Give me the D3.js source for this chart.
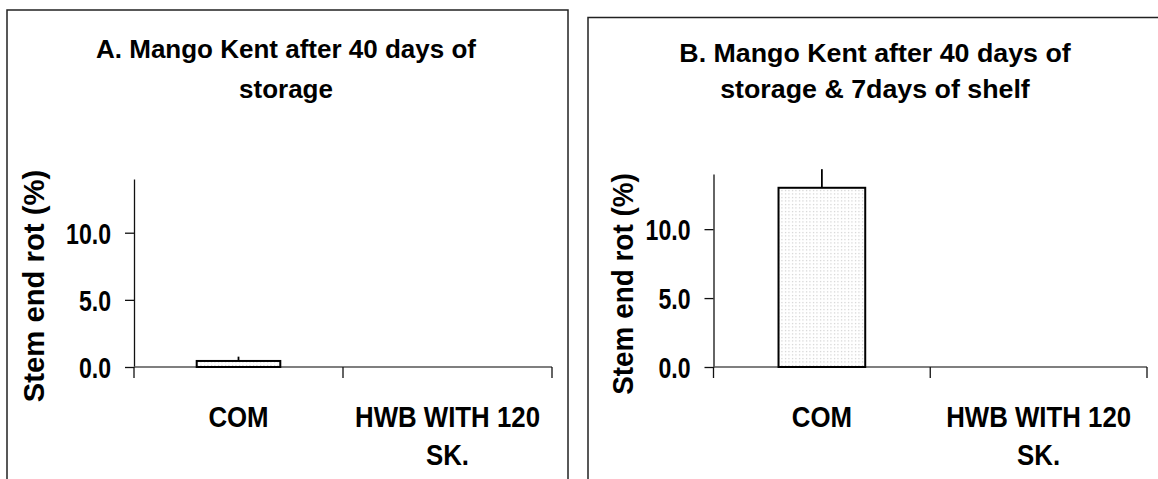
<!DOCTYPE html>
<html>
<head>
<meta charset="utf-8">
<script src="https://cdn.jsdelivr.net/npm/d3@7"></script>
<style>
  html, body { margin: 0; padding: 0; background: #fff; }
  svg { display: block; }
  text { font-family: "Liberation Sans", Arial, sans-serif; font-weight: bold; fill: #000; }
</style>
</head>
<body>
<svg id="chart" width="1158" height="479"></svg>
<script>
// Stem end rot of Kent mangoes, two storage scenarios
const categories = ["COM", "HWB WITH 120 SK."];
const yTicks = [0, 5, 10];
const yMax = 14;
const yLabel = "Stem end rot (%)";

const titleA = ["A. Mango Kent after 40 days of", "storage"];
const valuesA = [0.45, 0];
const errorsA = [0.32, 0];

const titleB = ["B. Mango Kent after 40 days of", "storage & 7days of shelf"];
const valuesB = [13.0, 0];
const errorsB = [1.35, 0];

const svg = d3.select("#chart");

// light dotted fill used for the bars
const defs = svg.append("defs");
const pat = defs.append("pattern")
  .attr("id", "dots")
  .attr("patternUnits", "userSpaceOnUse")
  .attr("width", 3.5).attr("height", 3.5);
pat.append("rect").attr("width", 3.5).attr("height", 3.5).attr("fill", "#fff");
pat.append("rect").attr("x", 1).attr("y", 1).attr("width", 1).attr("height", 1).attr("fill", "#b8b8b8");

// squeeze or widen glyphs of a text/tspan to a fraction of their natural width
function fit(sel, factor) {
  sel.each(function () {
    const w = this.getComputedTextLength();
    d3.select(this).attr("textLength", w * factor).attr("lengthAdjust", "spacingAndGlyphs");
  });
}

const panels = [
  { title: titleA, values: valuesA, errors: errorsA,
    box: { x: 7, y: 10, w: 561, h: 500 },
    plot: { left: 134, right: 552, top: 179, bottom: 367 },
    titleX: 286, titleY: [58, 98], titleFit: 1.0,
    labelX: 33, labelY: 286, labelFit: 0.975 },
  { title: titleB, values: valuesB, errors: errorsB,
    box: { x: 588, y: 17.5, w: 600, h: 500 },
    plot: { left: 713.5, right: 1147, top: 174, bottom: 367 },
    titleX: 875, titleY: [62, 98], titleFit: 1.03,
    labelX: 622, labelY: 284, labelFit: 0.93 }
];

function wrap(textSel, width) {
  textSel.each(function () {
    const t = d3.select(this);
    const words = t.text().split(/\s+/);
    const x = t.attr("x");
    t.text(null);
    let line = [];
    let tspan = t.append("tspan").attr("x", x).attr("dy", 0);
    for (const w of words) {
      line.push(w);
      tspan.text(line.join(" "));
      if (tspan.node().getComputedTextLength() * 0.89 > width && line.length > 1) {
        line.pop();
        tspan.text(line.join(" "));
        line = [w];
        tspan = t.append("tspan").attr("x", x).attr("dy", 38).text(w);
      }
    }
  });
}

panels.forEach(p => {
  const g = svg.append("g");

  // frame
  g.append("rect")
    .attr("x", p.box.x).attr("y", p.box.y)
    .attr("width", p.box.w).attr("height", p.box.h)
    .attr("fill", "none").attr("stroke", "#222").attr("stroke-width", 1.5);

  const x = d3.scaleBand().domain(categories).range([p.plot.left, p.plot.right]).paddingInner(0).paddingOuter(0);
  const y = d3.scaleLinear().domain([0, yMax]).range([p.plot.bottom, p.plot.top]);

  // title
  const tt = g.append("text").attr("text-anchor", "middle").attr("font-size", 26);
  p.title.forEach((line, i) => {
    tt.append("tspan").attr("x", p.titleX).attr("y", p.titleY[i]).text(line);
  });
  fit(tt.selectAll("tspan"), p.titleFit);

  // y axis
  const yAxis = g.append("g")
    .attr("transform", `translate(${p.plot.left},0)`)
    .call(d3.axisLeft(y).tickValues(yTicks).tickFormat(d3.format(".1f")).tickSize(9).tickSizeOuter(0).tickPadding(14));
  yAxis.select(".domain").attr("stroke", "#111").attr("stroke-width", 1.3);
  yAxis.selectAll(".tick line").attr("stroke", "#111").attr("stroke-width", 1.3);
  yAxis.selectAll(".tick text")
    .attr("font-size", 30).attr("font-family", null).attr("fill", "#000").attr("dy", "0.36em")
    .call(fit, 0.77);

  // x axis with ticks at category boundaries
  const xAxis = g.append("g").attr("transform", `translate(0,${p.plot.bottom})`);
  xAxis.append("line")
    .attr("x1", p.plot.left).attr("x2", p.plot.right)
    .attr("stroke", "#555").attr("stroke-width", 1.3);
  const bounds = categories.map(c => x(c)).concat([x(categories[categories.length - 1]) + x.bandwidth()]);
  xAxis.selectAll("line.bt").data(bounds).join("line")
    .attr("class", "bt")
    .attr("x1", d => d).attr("x2", d => d)
    .attr("y1", 0).attr("y2", 11)
    .attr("stroke", "#111").attr("stroke-width", 1.3);

  const cats = xAxis.selectAll("text.cat").data(categories).join("text")
    .attr("class", "cat")
    .attr("x", d => x(d) + x.bandwidth() / 2)
    .attr("y", 60)
    .attr("text-anchor", "middle")
    .attr("font-size", 29)
    .text(d => d)
    .call(wrap, x.bandwidth() * 0.92);
  fit(cats.selectAll("tspan"), 0.89);

  // y label
  const yl = g.append("text")
    .attr("transform", `translate(${p.labelX},${p.labelY}) rotate(-90)`)
    .attr("text-anchor", "middle")
    .attr("dy", "0.35em")
    .attr("font-size", 30)
    .text(yLabel);
  fit(yl, p.labelFit);

  // bars
  const data = categories.map((c, i) => ({ c, v: p.values[i], e: p.errors[i] }));
  const bw = x.bandwidth() * 0.4;
  const bars = data.filter(d => d.v > 0);
  g.selectAll("rect.bar").data(bars).join("rect")
    .attr("class", "bar")
    .attr("x", d => x(d.c) + (x.bandwidth() - bw) / 2)
    .attr("y", d => y(d.v))
    .attr("width", bw)
    .attr("height", d => y(0) - y(d.v))
    .attr("fill", "url(#dots)")
    .attr("stroke", "#000").attr("stroke-width", 2);

  // upper error bars
  g.selectAll("line.err").data(bars).join("line")
    .attr("class", "err")
    .attr("x1", d => x(d.c) + x.bandwidth() / 2)
    .attr("x2", d => x(d.c) + x.bandwidth() / 2)
    .attr("y1", d => y(d.v))
    .attr("y2", d => y(d.v + d.e))
    .attr("stroke", "#000").attr("stroke-width", 1.8);
});
</script>
</body>
</html>
